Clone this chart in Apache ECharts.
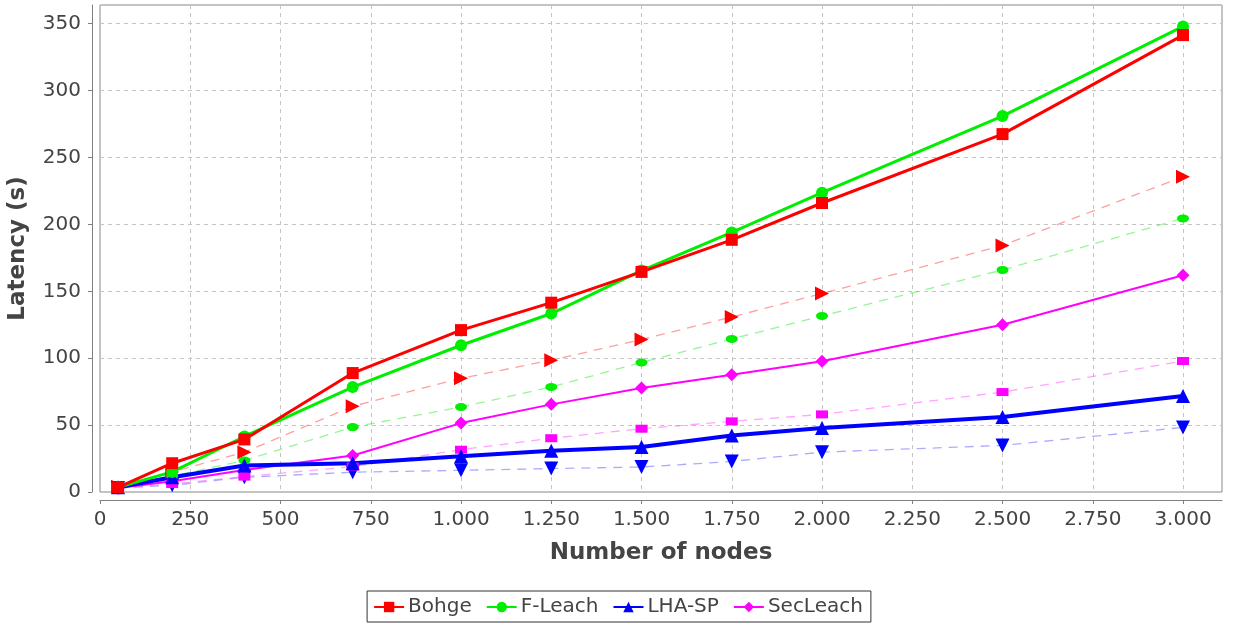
<!DOCTYPE html>
<html>
<head>
<meta charset="utf-8">
<title>Latency vs number of nodes</title>
<script src="https://cdn.jsdelivr.net/npm/echarts@6/dist/echarts.min.js"></script>
<style>
  html, body { margin: 0; padding: 0; background: #ffffff; }
  #chart { width: 1236px; height: 625px; }
</style>
</head>
<body>
<div id="chart"></div>
<script>
// Number of nodes (x values shared by every series)
const nodes = [50, 200, 400, 700, 1000, 1250, 1500, 1750, 2000, 2500, 3000];

// Main protocols (solid lines, shown in legend)
const bohge    = [3.5, 21.5, 39.3, 88.9, 121.0, 141.5, 164.5, 188.5, 216.0, 267.5, 341.5];
const fLeach   = [3.5, 15.0, 41.5, 78.4, 109.7, 133.4, 165.5, 194.0, 223.7, 281.0, 348.0];
const lhaSp    = [3.5, 11.0, 19.8, 21.5, 26.8, 30.8, 33.7, 42.3, 47.8, 56.0, 71.8];
const secLeach = [3.0, 8.0, 16.5, 27.3, 51.5, 65.5, 77.8, 87.7, 97.7, 125.0, 162.0];

// Companion runs (thin dashed lines)
const bohgeB    = [4.0, 15.0, 29.8, 64.0, 85.0, 98.5, 114.0, 130.8, 148.3, 184.3, 235.6];
const fLeachB   = [3.0, 12.0, 23.6, 48.5, 63.5, 78.5, 96.8, 114.4, 131.6, 166.0, 204.5];
const lhaSpB    = [3.0, 5.0, 11.0, 14.8, 16.2, 17.5, 18.7, 22.8, 29.8, 34.8, 48.3];
const secLeachB = [3.0, 6.0, 11.5, 19.0, 31.6, 40.2, 47.3, 52.8, 58.0, 74.7, 97.9];

const legendNames = ['Bohge', 'F-Leach', 'LHA-SP', 'SecLeach'];

const pairs = arr => nodes.map((x, i) => [x, arr[i]]);
const fmtThousands = v => String(v).replace(/\B(?=(\d{3})+(?!\d))/g, '.');

const FONT = 'DejaVu Sans';
const TEXT = '#444444';
const AXIS = '#808080';

function solid(name, data, color, width, symbol, size) {
  return {
    name, type: 'line', data: pairs(data),
    symbol, symbolSize: size,
    lineStyle: { color, width },
    itemStyle: { color },
    emphasis: { disabled: true }
  };
}
function dashed(name, data, color, lineColor, symbol, size, rotate) {
  return {
    name, type: 'line', data: pairs(data),
    symbol, symbolSize: size, symbolRotate: rotate || 0,
    lineStyle: { color: lineColor, width: 1.3, type: [9, 7] },
    itemStyle: { color },
    emphasis: { disabled: true }
  };
}

const chart = echarts.init(document.getElementById('chart'), null, { renderer: 'canvas' });
chart.setOption({
  animation: false,
  backgroundColor: '#ffffff',
  textStyle: { fontFamily: FONT },
  grid: {
    left: 100, right: 14, top: 5, bottom: 133,
    show: true, borderColor: '#888888', borderWidth: 1, backgroundColor: '#ffffff',
    containLabel: false, outerBoundsMode: 'none'
  },
  legend: {
    data: legendNames,
    bottom: 3, left: 'center',
    orient: 'horizontal',
    borderColor: '#333333', borderWidth: 1,
    padding: [6, 8, 5, 6],
    itemGap: 14, itemWidth: 30, itemHeight: 13,
    textStyle: { fontFamily: FONT, fontSize: 20, color: TEXT, padding: [0, 0, 0, -1] }
  },
  xAxis: {
    type: 'value',
    min: 0, max: 3108, interval: 250,
    offset: 8,
    name: 'Number of nodes', nameLocation: 'middle', nameGap: 42,
    nameTextStyle: { fontFamily: FONT, fontSize: 23, fontWeight: 'bold', color: TEXT },
    axisLine: { show: true, onZero: false, lineStyle: { color: AXIS, width: 1 } },
    axisTick: { show: true, length: 4, lineStyle: { color: AXIS } },
    axisLabel: {
      fontFamily: FONT, fontSize: 20, color: TEXT, margin: 10,
      showMaxLabel: false,
      formatter: v => (v % 250 === 0 ? fmtThousands(v) : '')
    },
    splitLine: { show: true, lineStyle: { color: '#c4c4c4', type: [4, 4], width: 1 } }
  },
  yAxis: {
    type: 'value',
    min: 0, max: 364, interval: 50,
    offset: 8,
    name: 'Latency (s)', nameLocation: 'middle', nameGap: 62,
    nameTextStyle: { fontFamily: FONT, fontSize: 23, fontWeight: 'bold', color: TEXT },
    axisLine: { show: true, onZero: false, lineStyle: { color: AXIS, width: 1 } },
    axisTick: { show: true, length: 4, lineStyle: { color: AXIS } },
    axisLabel: {
      fontFamily: FONT, fontSize: 20, color: TEXT, margin: 11,
      showMaxLabel: false,
      formatter: v => (v % 50 === 0 ? String(v) : '')
    },
    splitLine: { show: true, lineStyle: { color: '#c4c4c4', type: [4, 4], width: 1 } }
  },
  series: [
    dashed('Bohge (b)', bohgeB, '#ff0000', 'rgba(255,80,80,0.55)', 'triangle', 14, -90),
    dashed('F-Leach (b)', fLeachB, '#00ee00', 'rgba(60,240,60,0.55)', 'circle', [12, 8]),
    dashed('LHA-SP (b)', lhaSpB, '#0000ff', 'rgba(90,90,255,0.5)', 'triangle', 14, 180),
    dashed('SecLeach (b)', secLeachB, '#ff00ff', 'rgba(255,90,255,0.55)', 'rect', [12, 8]),
    solid('SecLeach', secLeach, '#ff00ff', 2, 'diamond', 13),
    solid('LHA-SP', lhaSp, '#0000ff', 4, 'triangle', 14),
    solid('F-Leach', fLeach, '#00ee00', 3, 'circle', 12),
    solid('Bohge', bohge, '#ff0000', 3, 'rect', 12)
  ]
});
</script>
</body>
</html>
